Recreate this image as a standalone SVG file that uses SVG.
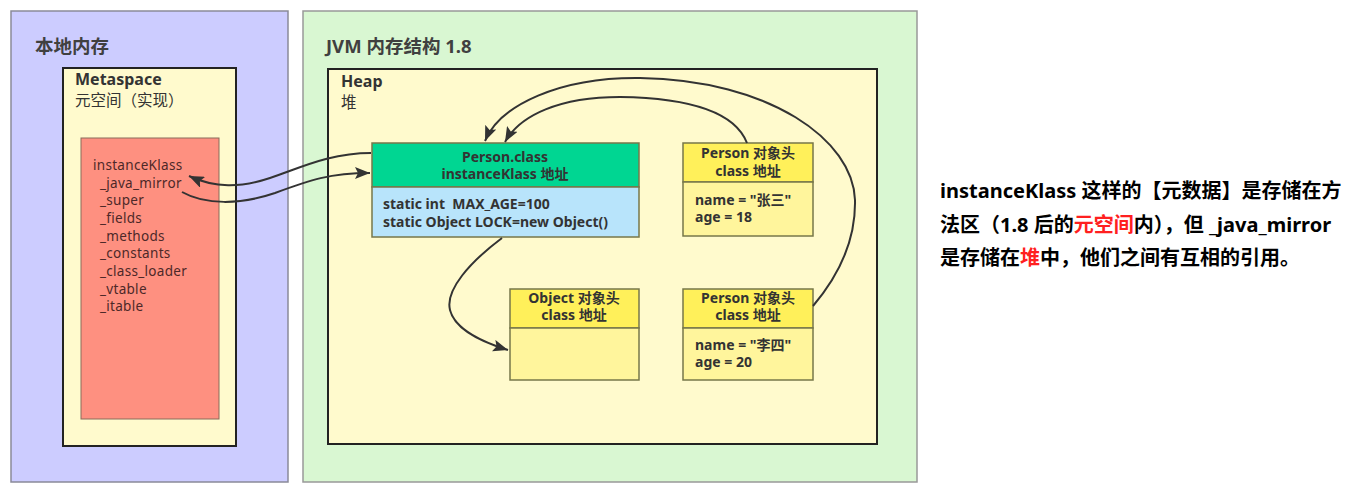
<svg xmlns="http://www.w3.org/2000/svg" width="1359" height="493" viewBox="0 0 1359 493">
<style>
text{font-family:"Noto Sans","Noto Sans CJK SC",sans-serif;fill:#333;white-space:pre}
.title{font-size:18.5px;font-weight:bold;fill:#404040}
.sub{font-size:16px;font-weight:bold}
.sub2{font-size:15.5px}
.mono{font-size:13.5px;letter-spacing:0.3px;fill:#4d2828}
.bx{font-size:14px;font-weight:bold}
.box{stroke:#77774a;stroke-width:1.5}
.conn path{fill:none;stroke:#333;stroke-width:2}
.note{font-size:20px;font-weight:bold;fill:#000}
.red{fill:#ff2020}
</style>
<defs>
<marker id="ah" markerUnits="userSpaceOnUse" markerWidth="16" markerHeight="12" refX="15" refY="6" orient="auto">
<path d="M0,0 L15,6 L0,12 L3,6 z" fill="#333"/>
</marker>
</defs>
<rect width="1359" height="493" fill="#fff"/>
<g id="native-memory">
<rect x="11" y="11" width="277" height="471" fill="#ccccff" stroke="#8a8a99" stroke-width="1.5"/>
<text class="title" x="35" y="53">本地内存</text>
</g>
<g id="metaspace">
<rect x="63" y="68" width="173" height="378" fill="#fffacd" stroke="#222" stroke-width="2"/>
<text class="sub" x="75" y="85">Metaspace</text>
<text class="sub2" x="75" y="106">元空间（实现）</text>
</g>
<g id="instanceKlass">
<rect x="81" y="138" width="138" height="281" fill="#fe9080" stroke="#8a6a5a" stroke-width="1"/>
<text class="mono" x="93" y="170">instanceKlass</text>
<text class="mono" x="100" y="188">_java_mirror</text>
<text class="mono" x="100" y="205">_super</text>
<text class="mono" x="100" y="223">_fields</text>
<text class="mono" x="100" y="241">_methods</text>
<text class="mono" x="100" y="258">_constants</text>
<text class="mono" x="100" y="276">_class_loader</text>
<text class="mono" x="100" y="294">_vtable</text>
<text class="mono" x="100" y="311">_itable</text>
</g>
<g id="jvm">
<rect x="303" y="11" width="614" height="471" fill="#d9f7d2" stroke="#999" stroke-width="1.5"/>
<text class="title" x="326" y="53">JVM 内存结构 1.8</text>
</g>
<g id="heap">
<rect x="328" y="69" width="549" height="375" fill="#fffacd" stroke="#222" stroke-width="2"/>
<text class="sub" x="341" y="87">Heap</text>
<text class="sub2" x="341" y="108">堆</text>
</g>
<g id="person-class">
<rect class="box" x="372" y="143" width="267" height="44" fill="#00d692"/>
<rect class="box" x="372" y="187" width="267" height="50" fill="#b8e4fb"/>
<text class="bx" x="505" y="162" text-anchor="middle">Person.class</text>
<text class="bx" x="505" y="179" text-anchor="middle">instanceKlass 地址</text>
<text class="bx" x="383" y="209">static int  MAX_AGE=100</text>
<text class="bx" x="383" y="227">static Object LOCK=new Object()</text>
</g>
<g id="person-zhangsan">
<rect class="box" x="683" y="143" width="130" height="39" fill="#fff05a"/>
<rect class="box" x="683" y="182" width="130" height="54" fill="#fff59c"/>
<text class="bx" x="748" y="158" text-anchor="middle">Person 对象头</text>
<text class="bx" x="748" y="176" text-anchor="middle">class 地址</text>
<text class="bx" x="695" y="205">name = "张三"</text>
<text class="bx" x="695" y="222">age = 18</text>
</g>
<g id="object">
<rect class="box" x="510" y="289" width="129" height="39" fill="#fff05a"/>
<rect class="box" x="510" y="328" width="129" height="52" fill="#fff59c"/>
<text class="bx" x="574" y="303" text-anchor="middle">Object 对象头</text>
<text class="bx" x="574" y="320" text-anchor="middle">class 地址</text>
</g>
<g id="person-lisi">
<rect class="box" x="683" y="289" width="130" height="39" fill="#fff05a"/>
<rect class="box" x="683" y="328" width="130" height="52" fill="#fff59c"/>
<text class="bx" x="748" y="303" text-anchor="middle">Person 对象头</text>
<text class="bx" x="748" y="320" text-anchor="middle">class 地址</text>
<text class="bx" x="695" y="350">name = "李四"</text>
<text class="bx" x="695" y="367">age = 20</text>
</g>
<g id="connectors" class="conn">
<path d="M371 153 C330 153 300 168 270 178 C240 188 215 188 189 176" marker-end="url(#ah)"/>
<path d="M182 192 C205 205 240 205 275 193 C310 180 330 173 370 173" marker-end="url(#ah)"/>
<path d="M747 143 C735 112 690 98 620 97 C560 97 520 115 505 142" marker-end="url(#ah)"/>
<path d="M813 306 C835 280 856 245 855 200 C853 140 770 80 640 78 C560 77 500 105 485 141" marker-end="url(#ah)"/>
<path d="M502 238 C470 262 445 290 450 310 C455 330 485 343 508 350" marker-end="url(#ah)"/>
</g>
<g id="note">
<text class="note" x="940" y="198">instanceKlass 这样的【元数据】是存储在方</text>
<text class="note" x="940" y="232">法区（1.8 后的<tspan class="red">元空间</tspan>内），但 _java_mirror</text>
<text class="note" x="940" y="265">是存储在<tspan class="red">堆</tspan>中，他们之间有互相的引用。</text>
</g>
</svg>
